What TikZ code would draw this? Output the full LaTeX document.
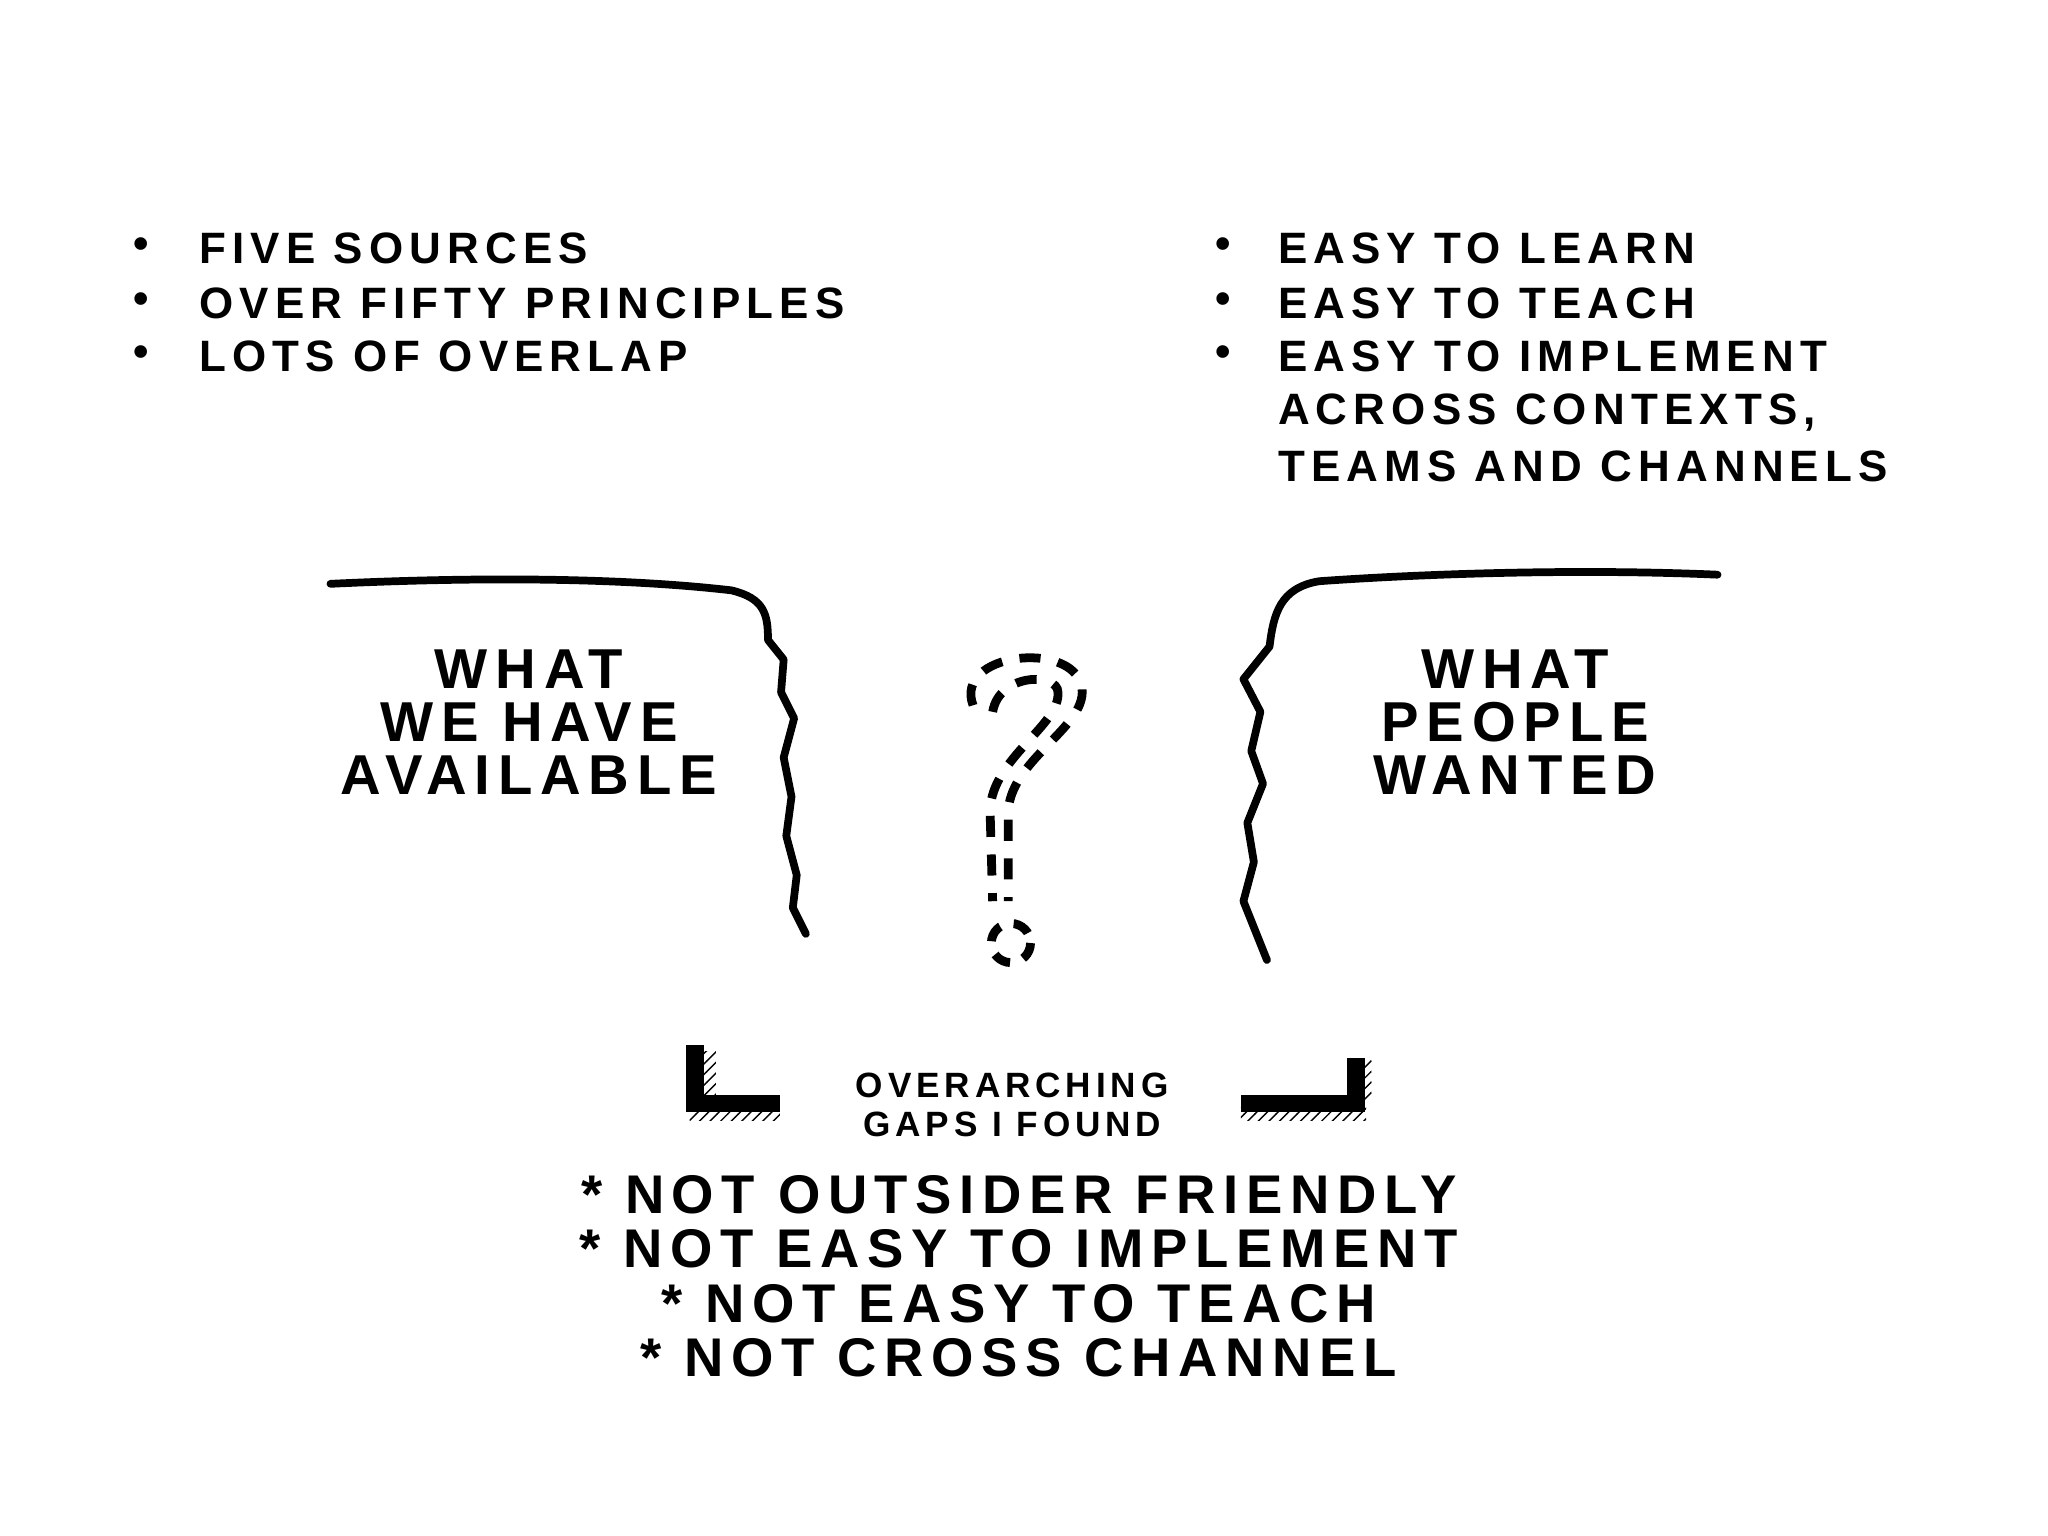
\documentclass[tikz,border=0pt]{standalone}
\usepackage{fontspec}
\setmainfont{Liberation Sans}[LetterSpace=14]
\usetikzlibrary{patterns}
\begin{document}
\begin{tikzpicture}[x=0.013061cm,y=-0.013061cm,
  lst/.style={anchor=west,font=\fontsize{12.5}{13}\selectfont\bfseries,inner sep=0},
  big/.style={align=center,font=\fontsize{16}{15}\selectfont\bfseries,inner sep=0},
  gap/.style={align=center,font=\fontsize{15.5}{15.5}\selectfont\bfseries,inner sep=0},
  cliff/.style={line width=2.2pt,line cap=round,line join=round},
  brk/.style={line width=5pt}]
\useasboundingbox (0,0) rectangle (1568,1176);
% left list
\foreach \y/\t in {190/FIVE SOURCES,232/OVER FIFTY PRINCIPLES,273/LOTS OF OVERLAP}
  {\node[lst] at (102,\y) {•}; \node[lst] (l\y) at (152,\y) {\t};}
\foreach \y/\t in {190/EASY TO LEARN,232/EASY TO TEACH,273/EASY TO IMPLEMENT}
  {\node[lst] at (930,\y) {•}; \node[lst] (r\y) at (978,\y) {\t};}
\node[lst] (r316) at (978,316) {ACROSS CONTEXTS,};
\node[lst] (r357) at (978,357) {TEAMS AND CHANNELS};
% cliffs
\draw[cliff] (253,447) .. controls (400,440) and (500,445) .. (560,452)
  .. controls (585,458) and (588,470) .. (588,490)
  -- (600,505) -- (598,530) -- (608,550) -- (600,580) -- (606,610) -- (602,640) -- (610,670) -- (607,695) -- (617,715);
\draw[cliff] (1315,440) .. controls (1200,435) and (1080,440) .. (1010,445)
  .. controls (980,450) and (975,470) .. (972,495)
  -- (952,520) -- (965,545) -- (958,575) -- (967,600) -- (955,630) -- (960,660) -- (952,690) -- (962,715) -- (970,735);
\node[big] (avail) at (405,553) {WHAT\\WE HAVE\\AVAILABLE};
\node[big] (want) at (1160,553) {WHAT\\PEOPLE\\WANTED};
% question mark
\draw[line width=2.5pt,dash pattern=on 6pt off 5pt]
  (745,540) .. controls (730,500) and (820,490) .. (828,525)
  .. controls (835,555) and (775,580) .. (772,620) -- (772,690);
\draw[line width=2.5pt,dash pattern=on 6pt off 5pt]
  (760,545) .. controls (765,515) and (810,515) .. (810,530)
  .. controls (812,555) and (760,580) .. (758,620) -- (760,690);
\draw[line width=2.5pt,dash pattern=on 5pt off 4pt] (774,722) circle (15);
% brackets
\draw[brk] (532,800) -- (532,845) -- (597,845);
\draw[brk] (1038,810) -- (1038,845) -- (950,845);
\fill[pattern=north east lines] (528,848) rectangle (597,858);
\fill[pattern=north east lines] (950,848) rectangle (1046,858);
\fill[pattern=north east lines] (537,805) rectangle (548,842);
\fill[pattern=north east lines] (1040,812) rectangle (1050,842);
\node[align=center,font=\fontsize{10}{11}\selectfont\bfseries,inner sep=0] (og) at (775,846) {OVERARCHING\\GAPS I FOUND};
\node[gap] (gaps) at (780,977) {* NOT OUTSIDER FRIENDLY\\* NOT EASY TO IMPLEMENT\\* NOT EASY TO TEACH\\* NOT CROSS CHANNEL};
\end{tikzpicture}
\end{document}
